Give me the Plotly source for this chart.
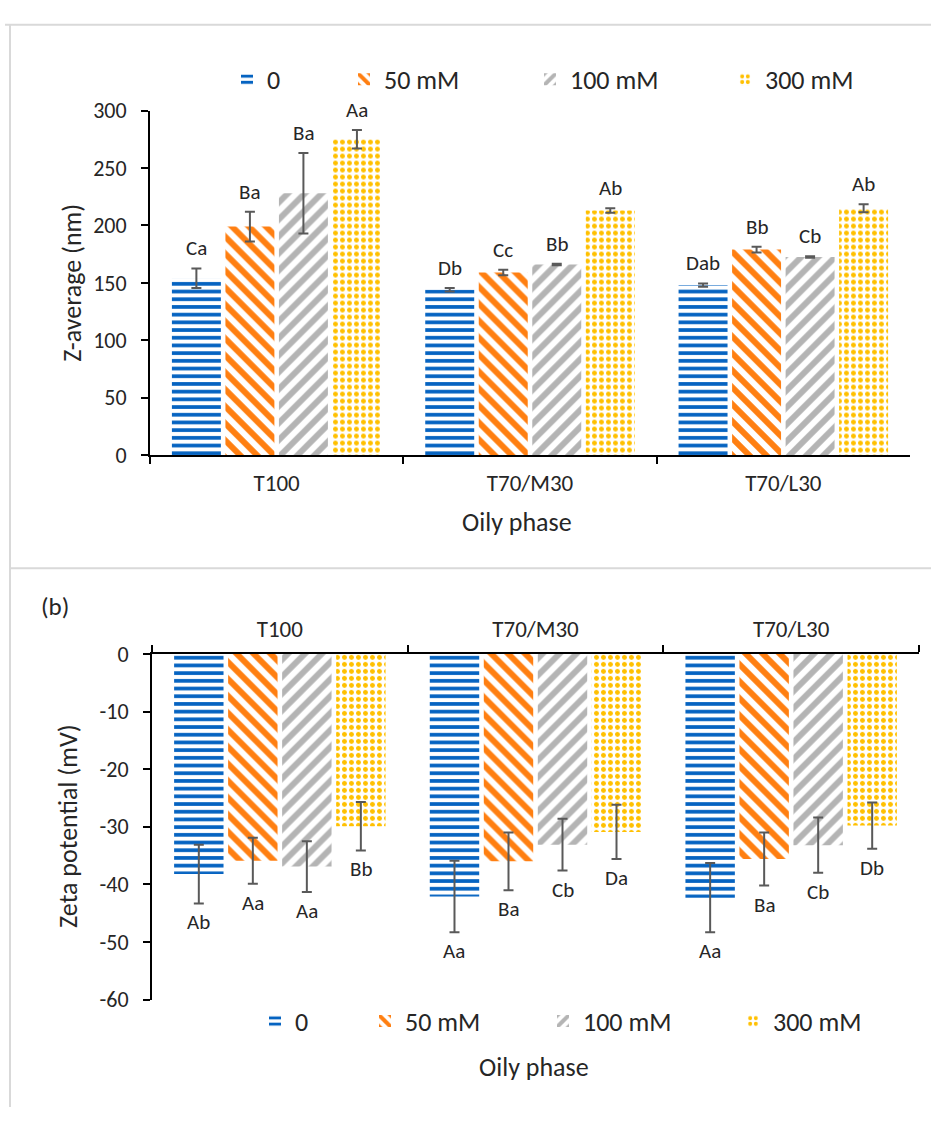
import plotly.graph_objects as go

# ---------------- data ----------------
categories = ["T100", "T70/M30", "T70/L30"]
series_names = ["0", "50 mM", "100 mM", "300 mM"]

# (a) Z-average (nm)
z_avg_0 = [154, 144, 148]
z_avg_50 = [199, 159, 179]
z_avg_100 = [228, 166, 172.5]
z_avg_300 = [275, 213, 215]
z_err_0 = [8.5, 1.5, 1.5]
z_err_50 = [13, 2.5, 2.5]
z_err_100 = [35, 0.6, 0.6]
z_err_300 = [8, 2, 3.5]
z_lab_0 = ["Ca", "Db", "Dab"]
z_lab_50 = ["Ba", "Cc", "Bb"]
z_lab_100 = ["Ba", "Bb", "Cb"]
z_lab_300 = ["Aa", "Ab", "Ab"]

# (b) Zeta potential (mV)
zeta_0 = [-38.2, -42.1, -42.3]
zeta_50 = [-35.9, -36.0, -35.6]
zeta_100 = [-36.9, -33.1, -33.2]
zeta_300 = [-29.9, -30.9, -29.8]
zeta_err_0 = [5.1, 6.2, 6.0]
zeta_err_50 = [4.0, 5.0, 4.6]
zeta_err_100 = [4.4, 4.5, 4.8]
zeta_err_300 = [4.2, 4.7, 4.0]
zeta_lab_0 = ["Ab", "Aa", "Aa"]
zeta_lab_50 = ["Aa", "Ba", "Ba"]
zeta_lab_100 = ["Aa", "Cb", "Cb"]
zeta_lab_300 = ["Bb", "Da", "Db"]

z_ticks = [0, 50, 100, 150, 200, 250, 300]
zeta_ticks = [0, -10, -20, -30, -40, -50, -60]
zeta_tick_text = ["0", "-10", "-20", "-30", "-40", "-50", "-60"]

# ---------------- styling ----------------
W, H = 931, 1121
FONT = "Carlito, Lato, Open Sans, sans-serif"
TXT = "#262626"
ERRC = "#595959"
BARGAP = 0.155
GROUPGAP = 0.085

def xp(p):
    return p / W

def yp(p):
    return 1 - p / H

patterns = [
    dict(shape="-", fgcolor="#0563C1", bgcolor="white", size=7.7, solidity=0.48, fgopacity=1),
    dict(shape="\\", fgcolor="#FF7F11", bgcolor="white", size=12, solidity=0.5, fgopacity=1),
    dict(shape="/", fgcolor="#B4B4B4", bgcolor="white", size=12, solidity=0.5, fgopacity=1),
    dict(shape=".", fgcolor="#FFC000", bgcolor="white", size=7, solidity=0.4, fgopacity=1),
]

z_vals = [z_avg_0, z_avg_50, z_avg_100, z_avg_300]
z_errs = [z_err_0, z_err_50, z_err_100, z_err_300]
z_labs = [z_lab_0, z_lab_50, z_lab_100, z_lab_300]
zeta_vals = [zeta_0, zeta_50, zeta_100, zeta_300]
zeta_errs = [zeta_err_0, zeta_err_50, zeta_err_100, zeta_err_300]
zeta_labs = [zeta_lab_0, zeta_lab_50, zeta_lab_100, zeta_lab_300]

fig = go.Figure()

def legend_id(n):
    return "legend" if n == 1 else f"legend{n}"

for k, name in enumerate(series_names):
    pat = patterns[k]
    fig.add_trace(go.Bar(
        x=categories, y=z_vals[k], name=name, showlegend=True,
        marker=dict(color="white", pattern=pat, line=dict(width=0)),
        error_y=dict(type="data", array=z_errs[k], color=ERRC, thickness=2, width=5),
        xaxis="x", yaxis="y", legend=legend_id(k + 1),
    ))
for k, name in enumerate(series_names):
    pat = patterns[k]
    fig.add_trace(go.Bar(
        x=categories, y=zeta_vals[k], name=name, showlegend=True,
        marker=dict(color="white", pattern=pat, line=dict(width=0)),
        error_y=dict(type="data", array=zeta_errs[k], color=ERRC, thickness=2, width=5),
        xaxis="x2", yaxis="y2", legend=legend_id(k + 5),
    ))

# letter annotations
annotations = []
slot = (1 - BARGAP) / 4
for k in range(4):
    off = -(1 - BARGAP) / 2 + slot * (k + 0.5)
    for i in range(3):
        annotations.append(dict(
            x=i + off, y=z_vals[k][i] + z_errs[k][i], xref="x", yref="y",
            text=z_labs[k][i], showarrow=False, yanchor="middle", yshift=20,
            font=dict(size=21, color=TXT, family=FONT)))
        annotations.append(dict(
            x=i + off, y=zeta_vals[k][i] - zeta_errs[k][i], xref="x2", yref="y2",
            text=zeta_labs[k][i], showarrow=False, yanchor="middle", yshift=-19,
            font=dict(size=21, color=TXT, family=FONT)))

# titles and panel label
annotations += [
    dict(x=xp(72), y=yp(276.5), xref="paper", yref="paper", text="Z-average (nm)",
         textangle=-90, xanchor="center", yanchor="middle",
         showarrow=False, font=dict(size=26, color=TXT, family=FONT)),
    dict(x=xp(68), y=yp(833), xref="paper", yref="paper", text="Zeta potential (mV)",
         textangle=-90, xanchor="center", yanchor="middle",
         showarrow=False, font=dict(size=26, color=TXT, family=FONT)),
    dict(x=xp(517), y=yp(522), xref="paper", yref="paper", text="Oily phase",
         xanchor="center", yanchor="middle",
         showarrow=False, font=dict(size=26, color=TXT, family=FONT)),
    dict(x=xp(534), y=yp(1080), xref="paper", yref="paper", text="Oily phase",
         xanchor="center", yanchor="middle",
         showarrow=False, font=dict(size=26, color=TXT, family=FONT)),
    dict(x=xp(55), y=yp(608), xref="paper", yref="paper", text="(b)",
         xanchor="center", yanchor="middle",
         showarrow=False, font=dict(size=25, color=TXT, family=FONT)),
]

shapes = [
    dict(type="line", xref="paper", yref="paper", x0=xp(5), x1=xp(931), y0=yp(12), y1=yp(12),
         line=dict(color="#D9D9D9", width=2)),
    dict(type="line", xref="paper", yref="paper", x0=xp(10), x1=xp(10), y0=yp(12), y1=yp(1121),
         line=dict(color="#D9D9D9", width=2)),
    dict(type="line", xref="paper", yref="paper", x0=xp(10), x1=xp(931), y0=yp(569), y1=yp(569),
         line=dict(color="#D9D9D9", width=2)),
]

axis_common = dict(showline=True, linecolor="black", linewidth=2, showgrid=False,
                   zeroline=False, ticks="outside", tickcolor="black", tickwidth=2,
                   ticklen=7, color=TXT)

# legends: one entry per legend box to mimic the spacing of the original
top_leg_text_x = [272, 389, 575, 770]
bot_leg_text_x = [300, 410, 588, 778]
legends = {}
for k in range(4):
    legends[legend_id(k + 1)] = dict(
        x=xp(top_leg_text_x[k] - 45), y=yp(68), xanchor="left", yanchor="middle",
        orientation="h", bgcolor="rgba(0,0,0,0)",
        font=dict(size=26, color=TXT, family=FONT))
    legends[legend_id(k + 5)] = dict(
        x=xp(bot_leg_text_x[k] - 45), y=yp(1033), xanchor="left", yanchor="middle",
        orientation="h", bgcolor="rgba(0,0,0,0)",
        font=dict(size=26, color=TXT, family=FONT))

fig.update_layout(
    width=W, height=H, autosize=False,
    margin=dict(l=0, r=0, t=0, b=0, pad=0),
    showlegend=True,
    paper_bgcolor="white", plot_bgcolor="white",
    font=dict(family=FONT, color=TXT),
    barmode="group", bargap=BARGAP, bargroupgap=GROUPGAP,
    xaxis=dict(domain=[xp(150), xp(910)], anchor="y", type="category",
               range=[-0.5, 2.5], tickson="boundaries", ticklabelstandoff=6,
               tickfont=dict(size=23, color=TXT), **axis_common),
    yaxis=dict(domain=[yp(453), yp(100)], anchor="x", range=[0, 300],
               tickvals=z_ticks, tickfont=dict(size=22, color=TXT),
               ticklabelstandoff=10, **axis_common),
    xaxis2=dict(domain=[xp(152), xp(919)], anchor="y2", type="category", side="top",
                range=[-0.5, 2.5], tickson="boundaries", ticklabelstandoff=6,
                tickfont=dict(size=23, color=TXT), **axis_common),
    yaxis2=dict(domain=[yp(1011), yp(656.7)], anchor="x2", range=[-60, 0],
                tickvals=zeta_ticks, ticktext=zeta_tick_text,
                tickfont=dict(size=22, color=TXT),
                ticklabelstandoff=10, **axis_common),
    annotations=annotations,
    shapes=shapes,
    **legends,
)

fig.write_html(
    "out.html",
    config={"displayModeBar": False},
    post_script="document.body.style.margin='0';document.body.style.overflow='hidden';",
)
